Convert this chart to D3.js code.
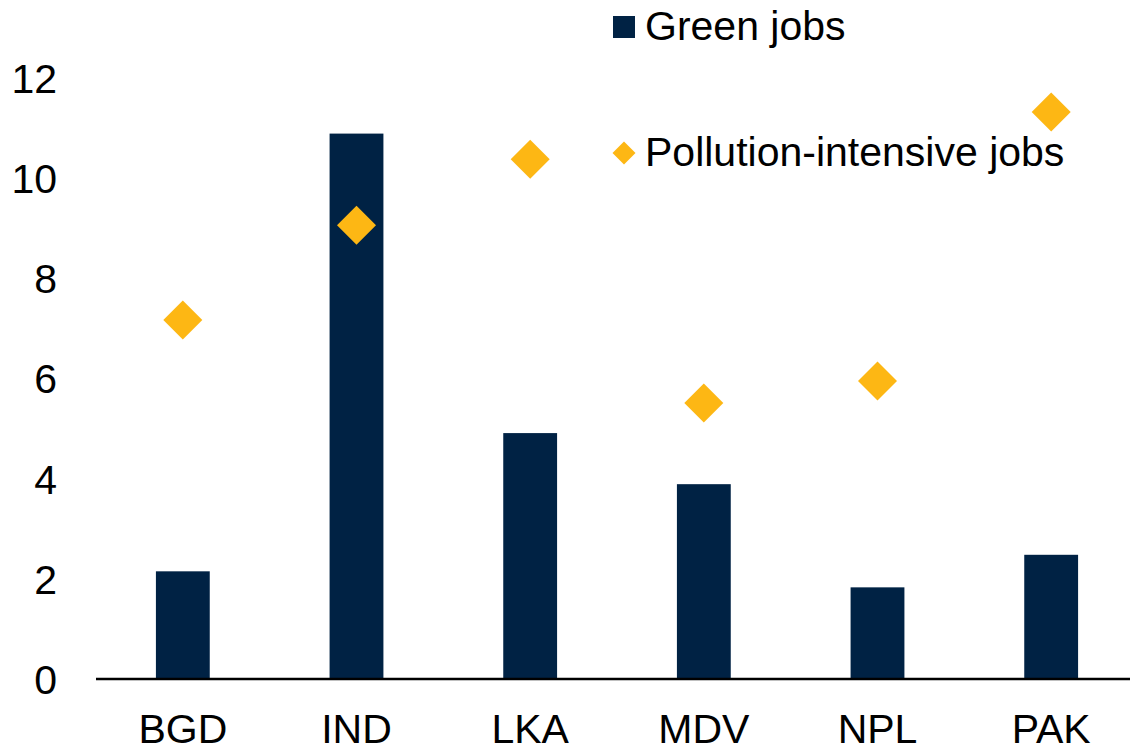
<!DOCTYPE html>
<html>
<head>
<meta charset="utf-8">
<script src="https://cdn.jsdelivr.net/npm/d3@7"></script>
<style>
  body { margin: 0; background: #fff; }
  svg text { font-family: "Liberation Sans", Arial, sans-serif; fill: #000; }
</style>
</head>
<body>
<svg id="chart" width="1130" height="748"></svg>
<script>
// data
const countries = ['BGD', 'IND', 'LKA', 'MDV', 'NPL', 'PAK'];
const greenJobs = [2.15, 10.89, 4.91, 3.89, 1.83, 2.48];
const pollutionJobs = [7.17, 9.06, 10.38, 5.51, 5.95, 11.32];
const yTicks = [0, 2, 4, 6, 8, 10, 12];

const navy = '#002244';
const gold = '#FDB714';
const fontSize = 41;

const svg = d3.select('#chart');

const xScale = d3.scaleBand()
    .domain(countries)
    .range([96, 1138])
    .paddingInner(0.69)
    .paddingOuter(0.345);

const yScale = d3.scaleLinear()
    .domain([0, 12])
    .range([679, 78]);

// y axis: labels only
const yAxis = svg.append('g')
    .attr('transform', 'translate(96,0)')
    .call(d3.axisLeft(yScale).tickValues(yTicks).tickSize(0).tickPadding(39).tickFormat(d3.format('d')));
yAxis.select('.domain').remove();
yAxis.selectAll('text')
    .style('font-size', fontSize + 'px')
    .attr('dy', '0.35em');

// bars
svg.append('g')
    .selectAll('rect')
    .data(countries)
    .enter()
    .append('rect')
    .attr('x', d => xScale(d))
    .attr('width', xScale.bandwidth())
    .attr('y', (d, i) => yScale(greenJobs[i]))
    .attr('height', (d, i) => yScale(0) - yScale(greenJobs[i]))
    .attr('fill', navy);

// diamonds
const diamond = r => `M0,${-r}L${r},0L0,${r}L${-r},0Z`;
svg.append('g')
    .selectAll('path')
    .data(countries)
    .enter()
    .append('path')
    .attr('d', diamond(19.5))
    .attr('transform', (d, i) => `translate(${xScale(d) + xScale.bandwidth() / 2},${yScale(pollutionJobs[i])})`)
    .attr('fill', gold);

// x axis
const xAxis = svg.append('g')
    .attr('transform', `translate(0,${yScale(0)})`)
    .call(d3.axisBottom(xScale).tickSize(0).tickPadding(35));
xAxis.select('.domain')
    .attr('d', 'M96,0H1130')
    .attr('stroke', '#000')
    .attr('stroke-width', 2.5);
xAxis.selectAll('text')
    .style('font-size', fontSize + 'px')
    .attr('dy', '0.71em');

// legend
const legend = svg.append('g');
legend.append('rect')
    .attr('x', 613).attr('y', 16)
    .attr('width', 22).attr('height', 22)
    .attr('fill', navy);
legend.append('text')
    .attr('x', 645).attr('y', 40)
    .style('font-size', fontSize + 'px')
    .text('Green jobs');
legend.append('path')
    .attr('d', diamond(11.5))
    .attr('transform', 'translate(624,153)')
    .attr('fill', gold);
legend.append('text')
    .attr('x', 645).attr('y', 166)
    .style('font-size', fontSize + 'px')
    .text('Pollution-intensive jobs');
</script>
</body>
</html>
